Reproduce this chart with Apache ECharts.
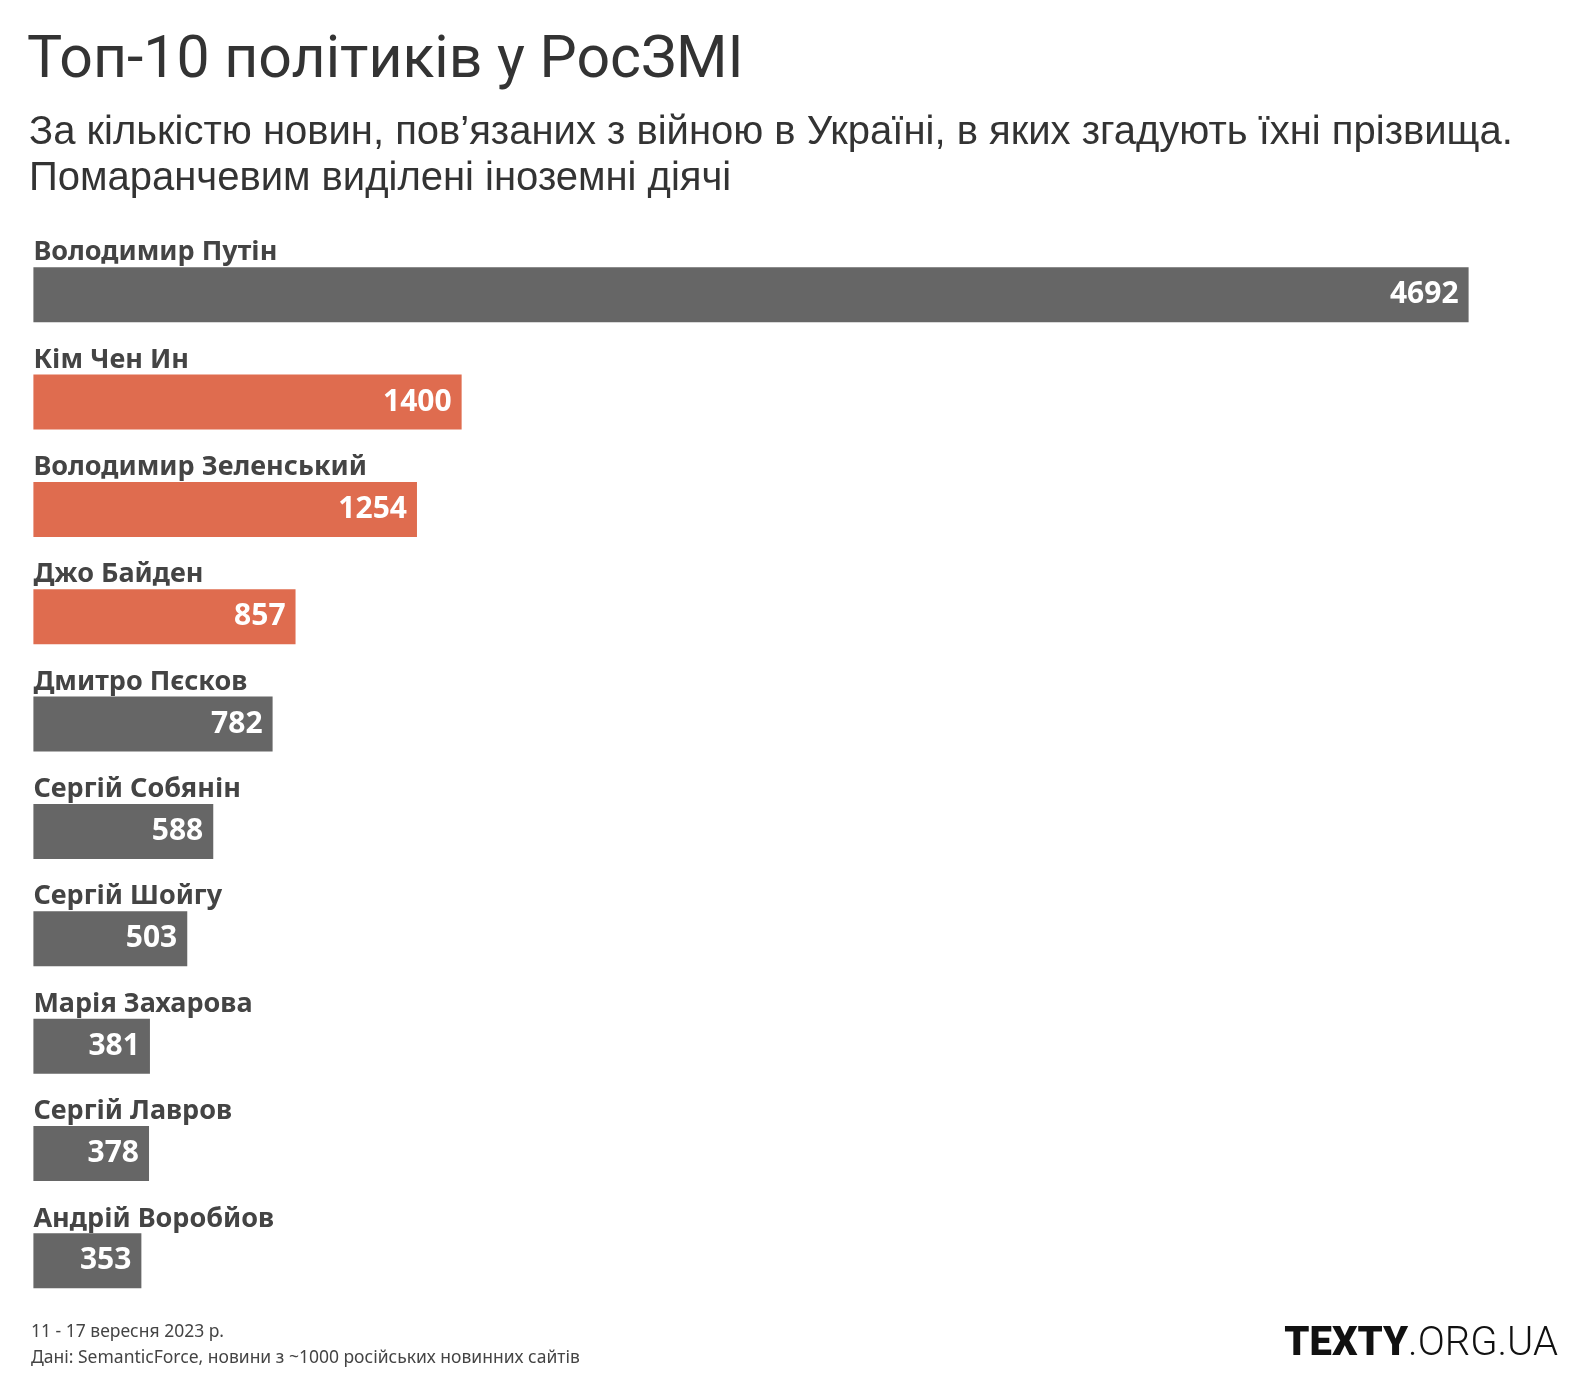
<!DOCTYPE html>
<html><head><meta charset="utf-8">
<script src="https://cdn.jsdelivr.net/npm/echarts@6/dist/echarts.min.js"></script>
<style>html,body{margin:0;padding:0;background:#fff}#c{width:1588px;height:1396px}</style>
</head><body><div id="c"></div>
<script>
const categories = ["Володимир Путін","Кім Чен Ин","Володимир Зеленський","Джо Байден","Дмитро Пєсков","Сергій Собянін","Сергій Шойгу","Марія Захарова","Сергій Лавров","Андрій Воробйов"];
const values = [4692,1400,1254,857,782,588,503,381,378,353];
const foreign = [false,true,true,true,false,false,false,false,false,false];
const titleText = "Топ-10 політиків у РосЗМІ";
const subtitleLines = ["За кількістю новин, пов’язаних з війною в Україні, в яких згадують їхні прізвища.","Помаранчевим виділені іноземні діячі"];
const footerLines = ["11 - 17 вересня 2023 р.","Дані: SemanticForce, новини з ~1000 російських новинних сайтів"];

const GREY = "#666666", ORANGE = "#df6c4f";

const chart = echarts.init(document.getElementById('c'), null, {renderer:'canvas'});
chart.setOption({
  animation:false,
  backgroundColor:'#fff',
  title:[
    {text:titleText,left:22,top:26,textStyle:{fontFamily:'Roboto',fontSize:59,fontWeight:'normal',color:'#333',lineHeight:63}},
    {text:subtitleLines.join("\n"),left:24,top:105,textStyle:{fontFamily:'Liberation Sans',fontSize:40,fontWeight:'normal',color:'#333',lineHeight:46}},
    {text:footerLines.join("\n"),left:26,top:1314,textStyle:{fontFamily:'Noto Sans',fontSize:17.5,fontWeight:'normal',color:'#444',lineHeight:26}},
    {text:'{b|TEXTY}{l|.ORG.UA}',right:25,top:1320,textStyle:{rich:{b:{fontFamily:'Roboto',fontSize:40,fontWeight:900,color:'#111'},l:{fontFamily:'Roboto',fontSize:40,fontWeight:300,color:'#111'}}}}
  ],
  grid:{left:33.4,right:119.4,top:241,bottom:81.5,containLabel:false},
  xAxis:{type:'value',min:0,max:4692,show:false},
  yAxis:{type:'category',data:categories,inverse:true,show:false},
  series:[
    {type:'bar',barWidth:55,data:values.map((v,i)=>({value:v,itemStyle:{color:foreign[i]?ORANGE:GREY}})),
     label:{show:true,position:'insideRight',distance:10,fontFamily:'Noto Sans',fontSize:30,fontWeight:'bold',color:'#fff'}},
    {type:'bar',barWidth:55,barGap:'-100%',silent:true,data:values,itemStyle:{color:'rgba(0,0,0,0)'},
     label:{show:true,position:[0,-1],align:'left',verticalAlign:'bottom',formatter:'{b}',fontFamily:'Noto Sans',fontSize:27,fontWeight:'bold',color:'#444'}}
  ]
});
</script></body></html>
